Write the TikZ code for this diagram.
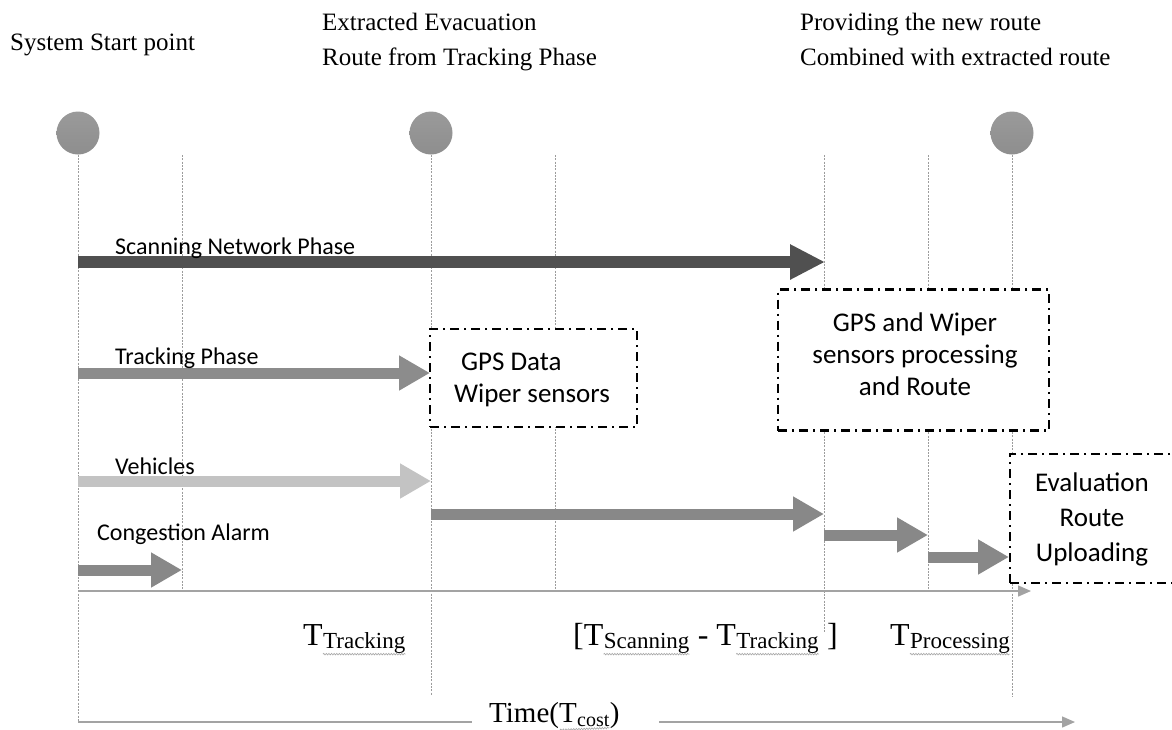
\documentclass[tikz,border=0pt]{standalone}
\usepackage{fontspec}
\setmainfont{Liberation Serif}
\newfontfamily\calib{Carlito}
\usetikzlibrary{arrows.meta,decorations.pathmorphing}
\definecolor{scanc}{HTML}{505050}
\definecolor{trackc}{HTML}{8C8C8C}
\definecolor{vehc}{HTML}{C3C3C3}
\definecolor{stepc}{HTML}{888888}
\definecolor{gridc}{HTML}{9C9C9C}
\definecolor{axisc}{HTML}{A3A3A3}
\definecolor{dottop}{HTML}{9A9A9A}
\definecolor{dotbot}{HTML}{8E8E8E}
\begin{document}
\begin{tikzpicture}[x=1pt,y=-1pt,
  vline/.style={draw=gridc, line width=0.7pt, dash pattern=on 2pt off 1.3pt},
  milestone/.style={circle, minimum size=43pt, inner sep=0pt, top color=dottop, bottom color=dotbot, draw=none},
  barrow/.style={draw=#1, line width=11pt, -{Triangle[length=31pt,width=33pt]}},
  axisline/.style={draw=axisc, line width=1.4pt},
  toplbl/.style={inner sep=0pt, anchor=base west, font=\fontsize{25}{30}\selectfont},
  phaselbl/.style={inner sep=0pt, anchor=base west, font=\calib\fontsize{24}{28}\selectfont},
  dbox/.style={draw=black, fill=white, line width=2.2pt, dash pattern=on 9pt off 5pt on 2pt off 5pt, inner sep=0pt},
  boxtext/.style={inner sep=0pt, font=\calib\fontsize{27}{32}\selectfont, align=center},
  tmain/.style={inner sep=0pt, anchor=base west, font=\fontsize{32}{36}\selectfont},
  tsub/.style={inner sep=0pt, anchor=base west, font=\fontsize{23}{26}\selectfont},
  squig/.style={draw=gray!70, line width=0.6pt, decorate, decoration={snake, amplitude=0.8pt, segment length=2.6pt}}
]
\useasboundingbox (0,0) rectangle (1172,729);
\clip (0,0) rectangle (1172,729);
\fill[white] (0,0) rectangle (1172,729);

% top labels
\node[toplbl] (lstart) at (10,50) {System Start point};
\node[toplbl] (lext1) at (322,30) {Extracted Evacuation};
\node[toplbl] (lext2) at (322,65) {Route from Tracking Phase};
\node[toplbl] (lprov1) at (800,30) {Providing the new route};
\node[toplbl] (lprov2) at (800,65) {Combined with extracted route};

% milestones
\node[milestone] (c1) at (78,133) {};
\node[milestone] (c2) at (431,133) {};
\node[milestone] (c3) at (1012,133) {};

% grid coordinates
\coordinate (g1b) at (78,722);
\coordinate (g2t) at (182,155); \coordinate (g2b) at (182,591);
\coordinate (g3b) at (431,695);
\coordinate (g4t) at (555,155); \coordinate (g4b) at (555,591);
\coordinate (g5t) at (824,155); \coordinate (g5b) at (824,633);
\coordinate (g6t) at (928,155); \coordinate (g6b) at (928,591);
\coordinate (g7b) at (1012,697);

\draw[vline] (c1.south) -- (g1b);
\draw[vline] (g2t) -- (g2b);
\draw[vline] (c2.south) -- (g3b);
\draw[vline] (g4t) -- (g4b);
\draw[vline] (g5t) -- (g5b);
\draw[vline] (g6t) -- (g6b);
\draw[vline] (c3.south) -- (g7b);

% axis
\coordinate (ax0) at (78,591);
\coordinate (ax1) at (1031,591);
\draw[axisline, -{Triangle[length=13pt,width=11pt]}] (ax0) -- (ax1);

% time axis
\node[tmain, font=\fontsize{29}{32}\selectfont] (tm) at (489,722) {Time(T};
\node[tsub, font=\fontsize{20}{22}\selectfont] (tms) at ([yshift=-4pt]tm.base east) {cost};
\node[tmain, font=\fontsize{29}{32}\selectfont] (tme) at ([yshift=4pt]tms.base east) {)};
\draw[squig] ([yshift=-1.5pt]tm.south east) ++(-17pt,0) -- ([yshift=-1.5pt]tms.south east);
\coordinate (tl1) at (472,722);
\coordinate (tl2) at (659,722);
\coordinate (tl3) at (1075,722);
\draw[axisline] (g1b) -- (tl1);
\draw[axisline, -{Triangle[length=13pt,width=11pt]}] (tl2) -- (tl3);

% phase arrows
\coordinate (sa0) at (78,262);  \coordinate (sa1) at (825,262);
\coordinate (ta0) at (78,373);  \coordinate (ta1) at (430,373);
\coordinate (va0) at (78,481);  \coordinate (va1) at (431,481);
\coordinate (ra0) at (431,514); \coordinate (ra1) at (824,514);
\coordinate (pa0) at (824,535); \coordinate (pa1) at (928,535);
\coordinate (ua0) at (928,557); \coordinate (ua1) at (1009,557);
\coordinate (ca0) at (78,570);  \coordinate (ca1) at (182,570);

\draw[barrow=scanc, line width=12pt, -{Triangle[length=35pt,width=33pt]}] (sa0) -- (sa1);
\draw[barrow=trackc] (ta0) -- (ta1);
\draw[barrow=vehc] (va0) -- (va1);
\draw[barrow=stepc] (ra0) -- (ra1);
\draw[barrow=stepc] (pa0) -- (pa1);
\draw[barrow=stepc] (ua0) -- (ua1);
\draw[barrow=stepc] (ca0) -- (ca1);

\node[phaselbl] (lscan) at (115,254) {Scanning Network Phase};
\node[phaselbl] (ltrack) at (115,364) {Tracking Phase};
\node[phaselbl] (lveh) at (115,474) {Vehicles};
\node[phaselbl] (lcong) at (97,540) {Congestion Alarm};

% boxes
\node[dbox, minimum width=207pt, minimum height=98pt] (b1) at (533.5,378) {};
\node[boxtext, align=left] (b1t) at (532,380) {\hspace{7pt}GPS Data\\Wiper sensors};
\node[dbox, minimum width=271pt, minimum height=141pt] (b2) at (913.5,360) {};
\node[boxtext] (b2t) at (915,354) {GPS and Wiper\\sensors processing\\and Route};
\node[dbox, minimum width=180pt, minimum height=129pt] (b3) at (1100,518.5) {};
\node[boxtext, font=\calib\fontsize{27}{35}\selectfont] (b3t) at (1092,519) {Evaluation\\Route\\Uploading};

% bottom time labels
\node[tmain] (tt) at (303,645) {T};
\node[tsub] (tts) at ([yshift=-3pt]tt.base east) {Tracking};
\draw[squig] ([yshift=-1pt]tts.south west) -- ([yshift=-1pt]tts.south east);

\node[tmain] (bra) at (573,645) {[T};
\node[tsub] (bs1) at ([yshift=-3pt]bra.base east) {Scanning};
\node[tmain] (bmid) at ([yshift=3pt]bs1.base east) {~-~T};
\node[tsub] (bs2) at ([yshift=-3pt]bmid.base east) {Tracking};
\node[tmain] (brb) at ([yshift=3pt]bs2.base east) {~]};
\draw[squig] ([yshift=-1pt]bs1.south west) -- ([yshift=-1pt]bs1.south east);
\draw[squig] ([yshift=-1pt]bs2.south west) -- ([yshift=-1pt]bs2.south east);

\node[tmain] (tp) at (890,645) {T};
\node[tsub] (tps) at ([yshift=-3pt]tp.base east) {Processing};
\draw[squig] ([yshift=-1pt]tps.south west) -- ([yshift=-1pt]tps.south east);
\end{tikzpicture}
\end{document}
